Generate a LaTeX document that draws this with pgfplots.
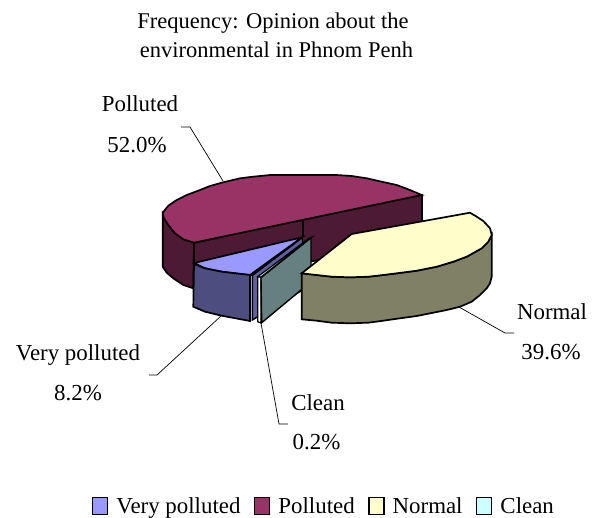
\documentclass[border=0pt]{standalone}
\usepackage{fontspec}
\setmainfont{Liberation Serif}
\usepackage{pgfplots}
\pgfplotsset{compat=1.18}
\definecolor{cPol}{HTML}{993366}
\definecolor{cPolD}{HTML}{4D1A33}
\definecolor{cBlue}{HTML}{9999FF}
\definecolor{cBlueD}{HTML}{4D4D80}
\definecolor{cBlueM}{HTML}{6060A0}
\definecolor{cYel}{HTML}{FFFFCC}
\definecolor{cYelD}{HTML}{808066}
\definecolor{cCya}{HTML}{CCFFFF}
\definecolor{cCyaD}{HTML}{668080}
\newcommand{\lab}{\fontsize{22.9}{27}\selectfont}
\newcommand{\ttl}{\fontsize{22.5}{27}\selectfont}
\begin{document}
\begin{tikzpicture}[x=1pt,y=1pt]
\path[use as bounding box] (0,0) rectangle (594,517);
\begin{axis}[at={(0,0)},anchor=south west,scale only axis,width=594pt,height=517pt,
  xmin=0,xmax=594,ymin=0,ymax=517,y dir=reverse,hide axis,clip=false,
  legend columns=4,
  legend style={at={(axis cs:323.5,506)},anchor=center,draw=none,fill=none,font=\lab,
    inner sep=0pt,row sep=0pt,
    /tikz/every even column/.style={column sep=12.5pt},
    /tikz/every odd column/.style={column sep=7pt},
    nodes={inner sep=1pt}},
  legend image code/.code={\draw[#1,line width=1.4pt] (0pt,-8.5pt) rectangle (15pt,8.5pt);},
]
% leader lines
\addplot[forget plot,black,line width=0.7pt] coordinates {(181,127)(190,127)(223,181)};
\addplot[forget plot,black,line width=0.7pt] coordinates {(514,333)(505,333)(459,307)};
\addplot[forget plot,black,line width=0.7pt] coordinates {(149,375)(157,375)(221,316)};
\addplot[forget plot,black,line width=0.7pt] coordinates {(288,424)(279,424)(261,323)};
% polluted: outer side and cut walls
\addplot[forget plot,fill=cPolD,draw=black,line width=1.7pt] coordinates {
 (162.7,212.7)(162.7,266.7)(166.7,272.7)(173.3,278.3)(183.3,285)(193.3,288.3)(194,242.7)} --cycle;
\addplot[forget plot,fill=cPolD,draw=black,line width=1.7pt] coordinates {
 (194,243)(302.7,217)(422,195)(422,241)(302.7,263)(194,289)} --cycle;
\addplot[forget plot,black,line width=1.7pt] coordinates {(302.7,217)(302.7,237)};
% very polluted
\addplot[fill=cBlue,draw=black,line width=1.7pt] coordinates {
 (194,263)(205,268.3)(221.7,271.7)(250,275)(302,237.3)} --cycle;
\addlegendentry{Very polluted}
\addplot[forget plot,fill=cBlueD,draw=black,line width=1.7pt] coordinates {
 (194,264)(193.3,306.7)(205,311.7)(221.7,315.7)(250,321)(250,275)(221.7,271.7)(205,268.3)} --cycle;
\addplot[forget plot,fill=cBlueM,draw=black,line width=1.4pt] coordinates {
 (252.3,275.5)(302.5,237.5)(302.5,290)(252.3,320)} --cycle;
% polluted top
\addplot[fill=cPol,draw=black,line width=1.7pt] coordinates {
 (421.7,195)(410,190)(396.7,185)(381.7,181.7)(366.7,178.3)(351.7,176)(336.7,175)(270,175)(253,176.7)
 (240,178.3)(221.7,182.7)(210,186)(200,190)(186.7,195)(176.7,200)(168.3,205.7)(162.7,212.7)
 (164,218.3)(168.3,225)(175,233.3)(183.3,239.3)(194,242.7)} --cycle;
\addlegendentry{Polluted}
% clean: thin front and teal cut face
\addplot[forget plot,fill=white,draw=black,line width=1.2pt] coordinates {
 (257.7,276.7)(257.7,321.7)(261,323)(261,277)} --cycle;
\addplot[forget plot,fill=cCyaD,draw=black,line width=1.4pt] coordinates {
 (261,277.7)(311,237.7)(311,281.7)(261.7,322.7)} --cycle;
% normal
\addplot[forget plot,fill=cYelD,draw=black,line width=1.7pt] coordinates {
 (301.7,273.3)(301.7,319.3)(316.7,320.7)(331.7,322.7)(350,323.3)(368.3,322.7)(383.3,320.7)(400,318.3)
 (416.7,316)(433.3,312.7)(446.7,310)(460,306.7)(471.7,301.7)(480,295)(486.7,288.3)(490,283.3)(491.7,276.7)
 (491.7,235)(488.3,241.7)(481.7,248.3)(466.7,256.7)(453.3,261.7)(436.7,266.7)(416.7,270.7)(396.7,273.3)
 (383.3,275)(368.3,276.7)(350,277.3)(331.7,276.7)(316.7,275)} --cycle;
\addplot[fill=cYel,draw=black,line width=1.7pt] coordinates {
 (301.7,273.3)(316.7,275)(331.7,276.7)(350,277.3)(368.3,276.7)(383.3,275)(396.7,273.3)(416.7,270.7)
 (436.7,266.7)(453.3,261.7)(466.7,256.7)(481.7,248.3)(488.3,241.7)(491.7,235)(490,228.3)(483.3,221)
 (476.7,216.7)(470,212.7)(351.7,234)} --cycle;
\addlegendentry{Normal}
\addplot[fill=cCya,draw=black,line width=1.2pt] coordinates {
 (257.7,276.7)(308,239)(311,237.7)(261,277)} --cycle;
\addlegendentry{Clean}
% texts
\node[font=\ttl,anchor=base,inner sep=0pt] at (axis cs:273,28) {Frequency: Opinion about the};
\node[font=\ttl,anchor=base,inner sep=0pt] at (axis cs:276.5,57) {environmental in Phnom Penh};
\node[font=\lab,anchor=base,inner sep=0pt] at (axis cs:140,111.7) {Polluted};
\node[font=\lab,anchor=base,inner sep=0pt] at (axis cs:137,152.7) {52.0\%};
\node[font=\lab,anchor=base,inner sep=0pt] at (axis cs:552,319) {Normal};
\node[font=\lab,anchor=base,inner sep=0pt] at (axis cs:551,359) {39.6\%};
\node[font=\lab,anchor=base,inner sep=0pt] at (axis cs:78,360) {Very polluted};
\node[font=\lab,anchor=base,inner sep=0pt] at (axis cs:78,400) {8.2\%};
\node[font=\lab,anchor=base,inner sep=0pt] at (axis cs:318,410) {Clean};
\node[font=\lab,anchor=base,inner sep=0pt] at (axis cs:316.5,449) {0.2\%};
\end{axis}
\end{tikzpicture}
\end{document}
